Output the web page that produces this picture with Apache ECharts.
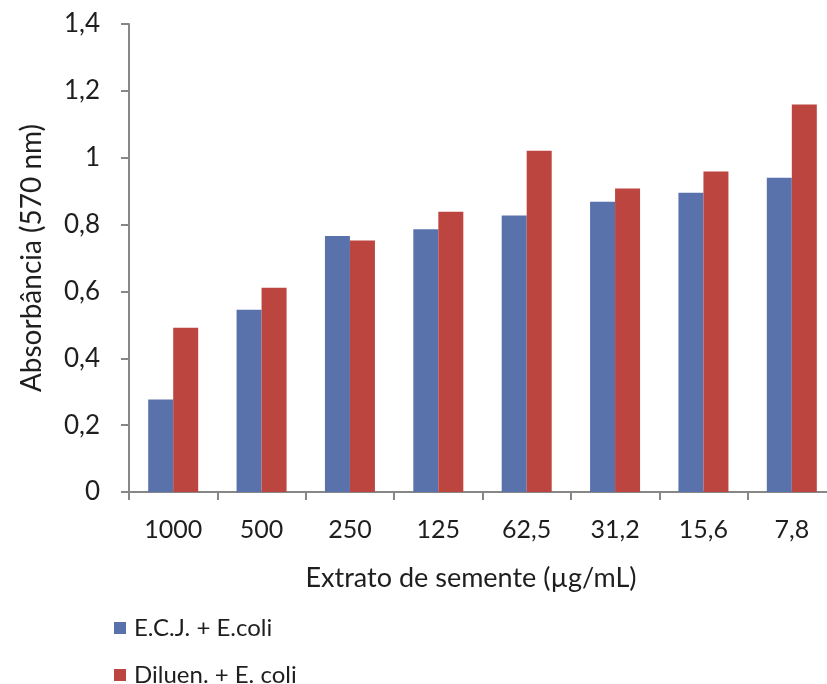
<!DOCTYPE html>
<html>
<head>
<meta charset="utf-8">
<script src="https://cdn.jsdelivr.net/npm/echarts@6/dist/echarts.min.js"></script>
<style>
html,body{margin:0;padding:0;background:#fff;overflow:hidden;width:827px;height:684px;}
#chart{width:836px;height:684px;}
</style>
</head>
<body>
<div id="chart"></div>
<script>
const categories = ['1000', '500', '250', '125', '62,5', '31,2', '15,6', '7,8'];
const seriesNames = ['E.C.J. + E.coli', 'Diluen. + E. coli'];
const ecjValues = [0.277, 0.545, 0.766, 0.786, 0.827, 0.868, 0.895, 0.940];
const diluenValues = [0.491, 0.611, 0.752, 0.838, 1.021, 0.908, 0.959, 1.159];
const yTicks = { min: 0, max: 1.4, interval: 0.2 };
const xTitle = 'Extrato de semente (\u00b5g/mL)';
const yTitle = 'Absorb\u00e2ncia (570 nm)';

const FONT = 'Lato';
const TXT = '#1e1e1e';
const AX = '#878787';
const COLORS = ['#5A72AC', '#BD4540'];

function legendFor(i, top) {
  return {
    orient: 'vertical',
    left: 114,
    top: top,
    padding: 0,
    itemWidth: 12,
    itemHeight: 12,
    icon: 'rect',
    textStyle: { fontFamily: FONT, fontSize: 24, color: TXT, padding: [0, 0, 0, 3] },
    data: [seriesNames[i]]
  };
}

const chart = echarts.init(document.getElementById('chart'), null, { renderer: 'canvas' });
chart.setOption({
  animation: false,
  backgroundColor: '#fff',
  color: COLORS,
  textStyle: { fontFamily: FONT },
  grid: { left: 129, top: 24, right: 0, height: 468, containLabel: false },
  legend: [legendFor(0, 616), legendFor(1, 663)],
  xAxis: {
    type: 'category',
    data: categories,
    axisLine: { lineStyle: { color: AX, width: 2 } },
    axisTick: { show: true, length: 8, lineStyle: { color: AX, width: 2 } },
    axisLabel: { fontFamily: FONT, fontSize: 25, color: TXT, margin: 25 }
  },
  yAxis: {
    type: 'value',
    min: yTicks.min,
    max: yTicks.max,
    interval: yTicks.interval,
    name: yTitle,
    nameLocation: 'middle',
    nameGap: 83,
    nameTextStyle: { fontFamily: FONT, fontSize: 28, color: TXT },
    splitLine: { show: false },
    axisLine: { show: true, lineStyle: { color: AX, width: 2 } },
    axisTick: { show: true, length: 8, lineStyle: { color: AX, width: 2 } },
    axisLabel: {
      fontFamily: FONT, fontSize: 26, color: TXT, margin: 29,
      formatter: v => String(Math.round(v * 10) / 10).replace('.', ',')
    }
  },
  graphic: [{
    type: 'text',
    x: 471,
    y: 578,
    style: { text: xTitle, fontFamily: FONT, fontSize: 27, fill: TXT, align: 'center', verticalAlign: 'middle' }
  }],
  series: [
    { name: seriesNames[0], type: 'bar', data: ecjValues, barWidth: 25, barGap: '0%' },
    { name: seriesNames[1], type: 'bar', data: diluenValues, barWidth: 25, barGap: '0%' }
  ]
});
</script>
</body>
</html>
